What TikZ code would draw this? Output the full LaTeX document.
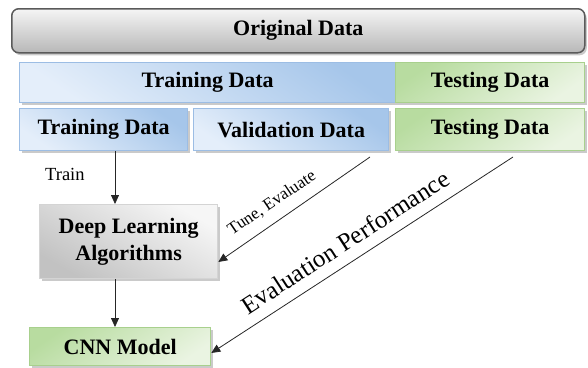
\documentclass[tikz,border=0pt]{standalone}
\usepackage{fontspec}
\setmainfont{Liberation Serif}
\newfontfamily\tnr{Liberation Serif}
\usetikzlibrary{arrows.meta,shadows,calc}
\definecolor{blueL}{HTML}{E4EEFA}
\definecolor{blueD}{HTML}{A6C6EA}
\definecolor{blueB}{HTML}{9CBDE4}
\definecolor{greenL}{HTML}{EAF4E2}
\definecolor{greenD}{HTML}{B8DCA0}
\definecolor{greenB}{HTML}{A8D08D}
\definecolor{grayL}{HTML}{F6F6F6}
\definecolor{grayD}{HTML}{C2C2C2}
\definecolor{grayB}{HTML}{D4D4D4}
\definecolor{origB}{HTML}{5A5A5A}
\definecolor{lineC}{HTML}{262626}
\tikzset{
  boxbase/.style={rectangle, anchor=north west, inner sep=0pt, line width=1.3pt,
    font=\tnr\fontsize{22}{27}\selectfont\bfseries, align=center, text=black,
    drop shadow={shadow xshift=2pt, shadow yshift=-2.5pt, opacity=0.35, fill=black!60}},
  bluebox/.style={boxbase, draw=blueB, shading=axis, top color=blueD, bottom color=blueL, shading angle=-35},
  greenbox/.style={boxbase, draw=greenB, shading=axis, top color=greenD, bottom color=greenL, shading angle=35},
  graybox/.style={boxbase, draw=grayB, shading=axis, top color=grayL, bottom color=grayD, shading angle=-30},
  origbox/.style={boxbase, draw=origB, rounded corners=7pt, line width=1.5pt, shading=axis, top color=white!96!black, bottom color=black!28},
  conn/.style={draw=lineC, line width=0.8pt, -{Triangle[length=9pt,width=8pt]}},
  lbl/.style={inner sep=0pt, text=black}
}
\begin{document}
\begin{tikzpicture}[x=1pt,y=-1pt]
\useasboundingbox (0,0) rectangle (588,367);
\node[origbox, minimum width=573pt, minimum height=44pt] (orig) at (11,8) {Original Data};
\node[bluebox, minimum width=376pt, minimum height=40pt] (trainTop) at (19,62) {Training Data};
\node[greenbox, minimum width=189pt, minimum height=40pt] (testTop) at (395,62) {Testing Data};
\node[bluebox, minimum width=168pt, minimum height=42pt] (train2) at (19,108) {Training Data};
\node[bluebox, minimum width=195pt, minimum height=42pt] (val) at (193,108) {Validation Data};
\node[greenbox, minimum width=189pt, minimum height=42pt] (test2) at (395,108) {Testing Data};
\node[graybox, minimum width=178pt, minimum height=74pt] (dl) at (39,204) {Deep Learning\\Algorithms};
\node[greenbox, minimum width=181pt, minimum height=38pt] (cnn) at (29,327) {CNN Model};
% connectors
\coordinate (vs) at (370,157);
\coordinate (ts) at (513,157);
\draw[conn] (train2.south -| 115,0) -- (dl.north -| 115,0);
\draw[conn] (dl.south -| 115,0) -- (cnn.north -| 115,0);
\draw[conn] (vs) -- (dl.east |- 0,262);
\draw[conn] (ts) -- (cnn.east |- 0,353);
% labels
\node[lbl, anchor=base west, font=\tnr\fontsize{18.5}{20}\selectfont] (trainlbl) at (45,180) {Train};
\node[lbl, rotate=34.1, font=\tnr\fontsize{17}{19}\selectfont] (tunelbl) at (272,203) {Tune, Evaluate};
\node[lbl, rotate=32.9, font=\tnr\fontsize{25}{28}\selectfont] (evallbl) at (345,242) {Evaluation Performance};
\end{tikzpicture}
\end{document}
